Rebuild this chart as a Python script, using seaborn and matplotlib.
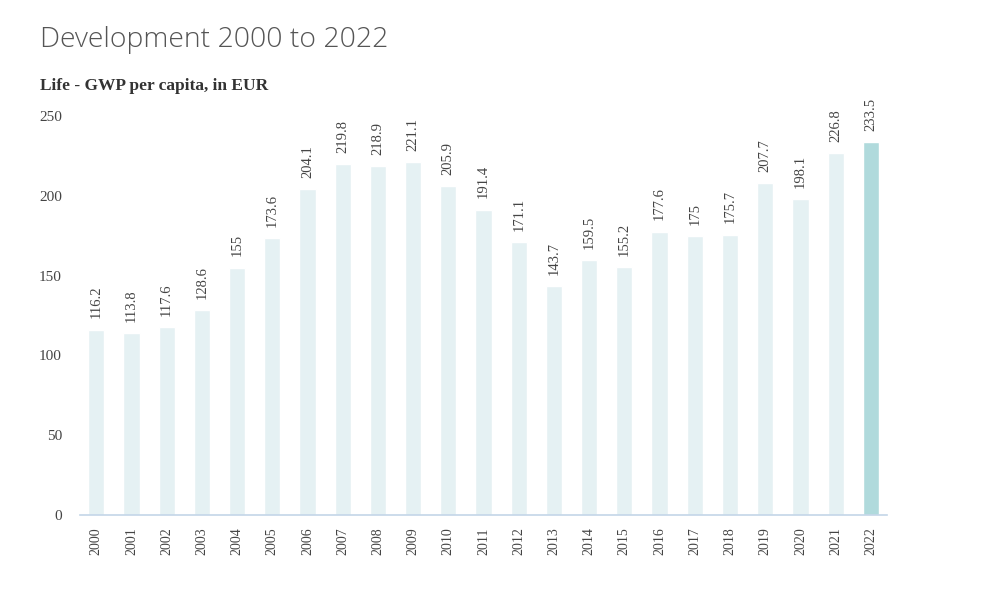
import matplotlib
matplotlib.use("Agg")
import matplotlib.pyplot as plt
import pandas as pd
import seaborn as sns

# Data
years = [str(y) for y in range(2000, 2023)]
gwp = [116.2, 113.8, 117.6, 128.6, 155, 173.6, 204.1, 219.8, 218.9, 221.1, 205.9,
       191.4, 171.1, 143.7, 159.5, 155.2, 177.6, 175, 175.7, 207.7, 198.1, 226.8, 233.5]
value_labels = ['116.2', '113.8', '117.6', '128.6', '155', '173.6', '204.1', '219.8', '218.9',
                '221.1', '205.9', '191.4', '171.1', '143.7', '159.5', '155.2', '177.6', '175',
                '175.7', '207.7', '198.1', '226.8', '233.5']
y_ticks = [0, 50, 100, 150, 200, 250]

df = pd.DataFrame({'year': years, 'gwp': gwp})
light = '#e5f1f3'
dark = '#b0dadc'
palette = [light] * (len(years) - 1) + [dark]

sns.set_style('white')
plt.rcParams['font.family'] = ['Liberation Serif', 'DejaVu Serif']

fig = plt.figure(figsize=(9.98, 6), dpi=100)
ax = fig.add_axes([0.0802, 0.1417, 0.8086, 0.665])

sns.barplot(data=df, x='year', y='gwp', hue='year', palette=palette, legend=False,
            width=0.46, ax=ax, saturation=1)

ax.set_ylim(0, 250)
ax.set_xlim(-0.46, len(years) - 0.54)
ax.set_yticks(y_ticks)
ax.set_yticklabels([str(t) for t in y_ticks], fontsize=11, color='#444444')
ax.tick_params(axis='x', labelrotation=90, labelsize=10, colors='#444444', length=0, pad=9)
ax.tick_params(axis='y', length=0, pad=13)
ax.set_xlabel('')
ax.set_ylabel('')

for s in ['top', 'right', 'left']:
    ax.spines[s].set_visible(False)
ax.spines['bottom'].set_color('#c3d6e8')
ax.spines['bottom'].set_linewidth(1.2)

for i, (v, lab) in enumerate(zip(gwp, value_labels)):
    ax.annotate(lab, (i, v), xytext=(0, 8), textcoords='offset points',
                rotation=90, ha='center', va='bottom', fontsize=10.5,
                color='#444444', annotation_clip=False)

fig.text(0.040, 0.933, 'Development 2000 to 2022', fontsize=20.4, color='#555555',
         family=['Open Sans', 'DejaVu Sans'], fontweight=300, va='center')
fig.text(0.040, 0.857, 'Life - GWP per capita, in EUR', fontsize=12.5,
         fontweight='bold', color='#333333', va='center')

fig.savefig('out.png', dpi=100)
